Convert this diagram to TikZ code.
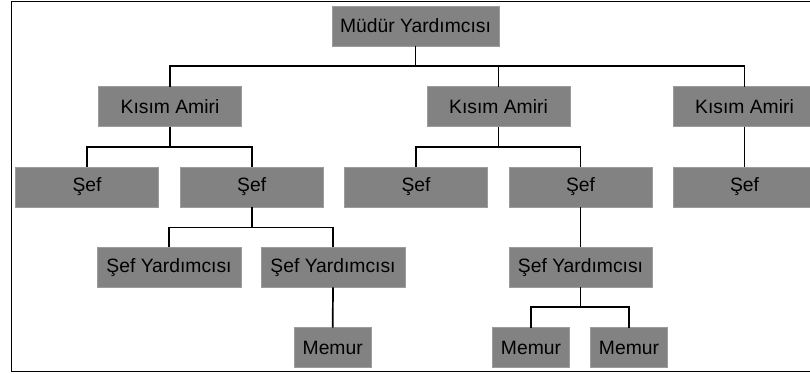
\documentclass[tikz,border=0pt]{standalone}
\usepackage{fontspec}
\setmainfont{Liberation Sans}
\begin{document}
\begin{tikzpicture}[x=1pt,y=-1pt,
  every node/.style={inner sep=0pt, outer sep=0pt},
  orgbox/.style={rectangle, fill=boxgray, draw=boxedge, line width=1pt, minimum height=40pt, text=black, font=\fontsize{19.3}{22}\selectfont},
  conn/.style={draw=black, line width=1.7pt}]
\definecolor{boxgray}{HTML}{828282}
\definecolor{boxedge}{HTML}{9C9C9C}
\useasboundingbox (0,0) rectangle (810,373);
\clip (0,0) rectangle (810,373);
\draw[line width=1.8pt] (11.5,1.5) rectangle (830,371.5);
% nodes
\node[orgbox, minimum width=167pt] (md) at (415.5,26) {Müdür Yardımcısı};
\node[orgbox, minimum width=143pt] (ka1) at (170,106.7) {Kısım Amiri};
\node[orgbox, minimum width=143pt] (ka2) at (498.5,106.7) {Kısım Amiri};
\node[orgbox, minimum width=143pt] (ka3) at (744.5,106.7) {Kısım Amiri};
\node[orgbox, minimum width=143pt] (s1) at (87,187) {Şef};
\node[orgbox, minimum width=143pt] (s2) at (251.7,187) {Şef};
\node[orgbox, minimum width=143pt] (s3) at (416,187) {Şef};
\node[orgbox, minimum width=143pt] (s4) at (580.5,187) {Şef};
\node[orgbox, minimum width=143pt] (s5) at (744.5,187) {Şef};
\node[orgbox, minimum width=144pt] (y1) at (169,267.3) {Şef Yardımcısı};
\node[orgbox, minimum width=144pt] (y2) at (333,267.3) {Şef Yardımcısı};
\node[orgbox, minimum width=143pt] (y3) at (580.5,267.3) {Şef Yardımcısı};
\node[orgbox, minimum width=77pt] (m1) at (332.7,347.7) {Memur};
\node[orgbox, minimum width=77pt] (m2) at (531,347.7) {Memur};
\node[orgbox, minimum width=77pt] (m3) at (629,347.7) {Memur};
% connectors
\draw[conn] (md.south) -- ++(0,20) coordinate (h0);
\draw[conn] (ka1.north) |- (h0) -| (ka3.north);
\draw[conn] (ka2.north) -- (ka2.north |- h0);
\draw[conn] (ka1.south) -- ++(0,20) coordinate (h1);
\draw[conn] (s1.north) |- (h1) -| (s2.north);
\draw[conn] (ka2.south) -- ++(0,20) coordinate (h2);
\draw[conn] (s3.north) |- (h2) -| (s4.north);
\draw[conn] (ka3.south) -- (s5.north);
\draw[conn] (s2.south) -- ++(0,20.5) coordinate (h3);
\draw[conn] (y1.north) |- (h3) -| (y2.north);
\draw[conn] (s4.south) -- (y3.north);
\draw[conn] (y2.south) -- (m1.north);
\draw[conn] (y3.south) -- ++(0,20) coordinate (h4);
\draw[conn] (m2.north) |- (h4) -| (m3.north);
\end{tikzpicture}
\end{document}
